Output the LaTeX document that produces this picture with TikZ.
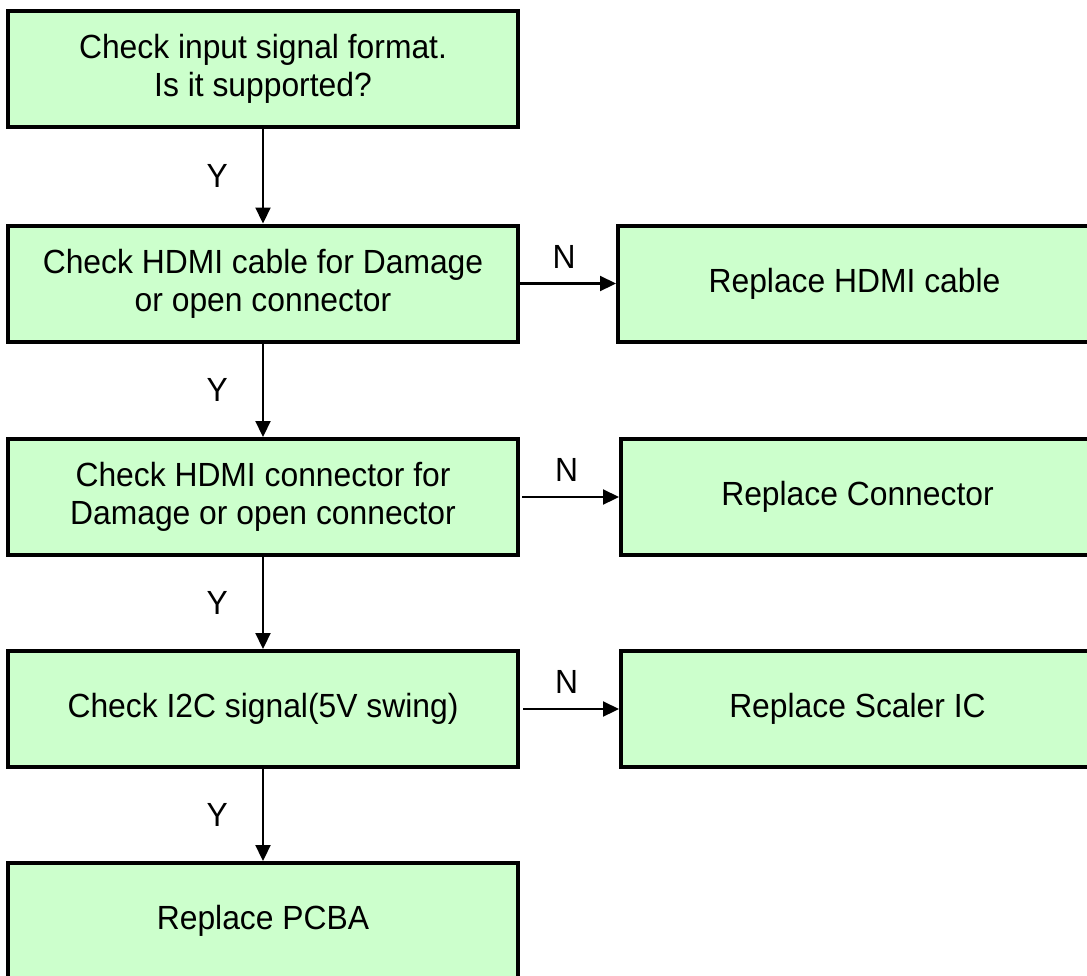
\documentclass[tikz,border=0pt]{standalone}
\usepackage{fontspec}
\setmainfont[FakeStretch=0.95]{Liberation Sans}
\usetikzlibrary{arrows.meta}
\definecolor{boxgreen}{HTML}{CCFFCC}
\begin{document}
\begin{tikzpicture}[x=1pt,y=-1pt,
  flowbox/.style={draw=black, line width=4pt, fill=boxgreen, minimum height=116pt,
    inner sep=0pt, align=center, font=\fontsize{33.5}{38}\selectfont},
  leftbox/.style={flowbox, minimum width=510pt},
  rightbox/.style={flowbox, minimum width=473pt},
  conn/.style={line width=2.2pt, -{Triangle[length=16pt,width=15pt]}},
  lbl/.style={inner sep=0pt, font=\fontsize{33.5}{38}\selectfont}]
\useasboundingbox (0,0) rectangle (1087,975);
\clip (0,0) rectangle (1087,975);
\node[leftbox] (b1) at (263,69) {Check input signal format.\\Is it supported?};
\node[leftbox] (b2) at (263,283.5) {Check HDMI cable for Damage\\or open connector};
\node[leftbox] (b3) at (263,497) {Check HDMI connector for\\Damage or open connector};
\node[leftbox] (b4) at (263,709) {Check I2C signal(5V swing)};
\node[leftbox] (b5) at (263,921) {Replace PCBA};
\node[rightbox] (r1) at (854.5,283.5) {Replace HDMI cable};
\node[rightbox] (r2) at (857.5,497) {Replace Connector};
\node[rightbox] (r3) at (857.5,709) {Replace Scaler IC};
\draw[conn] (b1) -- node[lbl, left=34pt] {Y} (b2);
\draw[conn] (b2) -- node[lbl, left=34pt] {Y} (b3);
\draw[conn] (b3) -- node[lbl, left=34pt] {Y} (b4);
\draw[conn] (b4) -- node[lbl, left=34pt] {Y} (b5);
\draw[conn] (b2) -- node[lbl, above=14pt, xshift=-4pt] {N} (r1);
\draw[conn, shorten <=2pt] (b3) -- node[lbl, above=14pt, xshift=-3pt] {N} (r2);
\draw[conn, shorten <=3pt] (b4) -- node[lbl, above=14pt, xshift=-3pt] {N} (r3);
\end{tikzpicture}
\end{document}
